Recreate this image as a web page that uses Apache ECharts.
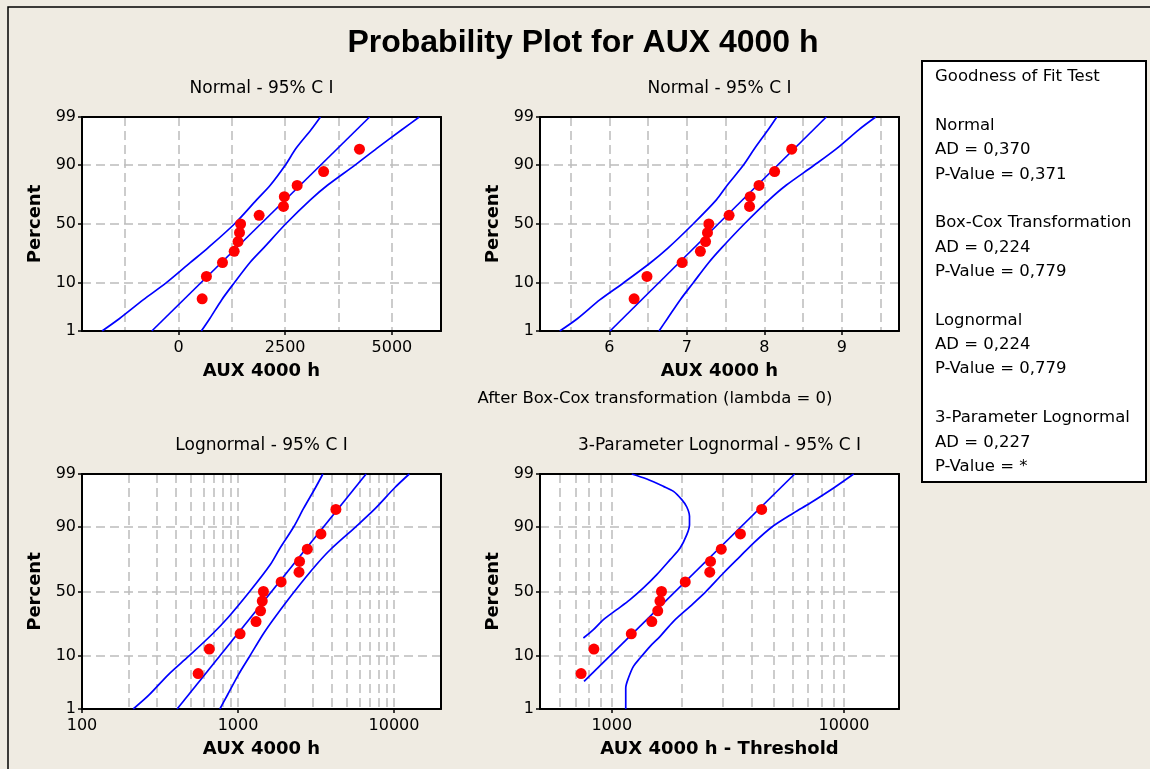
<!DOCTYPE html>
<html>
<head>
<meta charset="utf-8">
<title>Probability Plot for AUX 4000 h</title>
<script src="https://cdn.jsdelivr.net/npm/echarts@6.0.0/dist/echarts.min.js"></script>
<style>
  html, body { margin: 0; padding: 0; background: #efebe2; }
  #chart { width: 1150px; height: 769px; }
</style>
</head>
<body>
<div id="chart"></div>
<script>
// --- data ---
const aux4000 = [555, 655, 1031, 1305, 1395, 1430, 1455, 1890, 2460, 2480, 2780, 3400, 4240];
const plotPercent = [5.2, 12.7, 20.1, 27.6, 35.1, 42.5, 50.0, 57.5, 64.9, 72.4, 79.9, 87.3, 94.8];
const threshold = -183;

const percentTicks = [1, 10, 50, 90, 99];
const percentGrid = [10, 50, 90];

// fitted lines (percent at ends)
const fitPercent = [1, 99];
const normalFit = [-625, 4477];
const boxCoxFit = [6.009, 8.798];
const lognormalFit = [407, 6620];
const tpFitPercent = [3.77, 99];
const tpFit = [760, 6131];

// 95% CI curves
const ciPercent = [1, 2, 5, 10, 20, 30, 50, 70, 80, 90, 95, 98, 99];
const normalLower = [-1790, -1380, -820, -290, 275, 685, 1310, 1830, 2150, 2505, 2755, 3110, 3325];
const normalUpper = [535, 735, 1015, 1305, 1670, 1990, 2510, 3090, 3490, 4135, 4645, 5240, 5640];
const boxCoxLower = [5.36, 5.59, 5.88, 6.18, 6.53, 6.755, 7.08, 7.38, 7.52, 7.73, 7.875, 8.05, 8.16];
const boxCoxUpper = [6.64, 6.75, 6.915, 7.08, 7.28, 7.445, 7.74, 8.06, 8.28, 8.645, 8.935, 9.22, 9.435];
const lognormalLower = [213, 268, 358, 483, 685, 858, 1188, 1604, 1845, 2276, 2631, 3134, 3498];
const lognormalUpper = [765, 854, 1007, 1188, 1451, 1711, 2299, 3165, 3944, 5683, 7593, 10097, 12520];

const tpLowerPercent = [17.86, 22.5, 28.9, 35.96, 43.6, 52.8, 63.05, 73.58, 80.54, 86.97, 90.7, 93.16, 95.28, 96.55, 97.63, 98.13, 98.7, 99];
const tpLower = [755, 834, 921, 1051, 1199, 1369, 1563, 1784, 1970, 2105, 2162, 2162, 2105, 2003, 1845, 1670, 1416, 1220];
const tpUpperPercent = [1, 2.81, 4.34, 6.93, 9.4, 13.88, 18.74, 27.74, 38.45, 49.3, 64.3, 75.7, 83.15, 89.92, 93.99, 96.01, 97.98, 99];
const tpUpper = [1149, 1149, 1180, 1240, 1325, 1463, 1616, 1845, 2176, 2525, 3029, 3574, 4079, 4895, 6067, 7161, 9028, 11008];

// x axis ticks / grid lines
const normalTicks = [0, 2500, 5000];
const normalGrid = [-1250, 0, 1250, 2500, 3750, 5000];
const boxCoxTicks = [6, 7, 8, 9];
const boxCoxGrid = [5.5, 6, 6.5, 7, 7.5, 8, 8.5, 9, 9.5];
const logTicks = [100, 1000, 10000];
const logGrid = [200, 300, 400, 500, 600, 700, 800, 900, 1000, 2000, 3000, 4000, 5000, 6000, 7000, 8000, 9000, 10000];
const tpTicks = [1000, 10000];
const tpGrid = [600, 700, 800, 900, 1000, 2000, 3000, 4000, 5000, 6000, 7000, 8000, 9000, 10000];

const fitTest = [
  'Goodness of Fit Test', '',
  'Normal', 'AD = 0,370', 'P-Value = 0,371', '',
  'Box-Cox Transformation', 'AD = 0,224', 'P-Value = 0,779', '',
  'Lognormal', 'AD = 0,224', 'P-Value = 0,779', '',
  '3-Parameter Lognormal', 'AD = 0,227', 'P-Value = *'
];

// inverse normal cdf (probability scale)
function probit(p) {
  const a = [-3.969683028665376e+01, 2.209460984245205e+02, -2.759285104469687e+02, 1.383577518672690e+02, -3.066479806614716e+01, 2.506628277459239e+00];
  const b = [-5.447609879822406e+01, 1.615858368580409e+02, -1.556989798598866e+02, 6.680131188771972e+01, -1.328068155288572e+01];
  const c = [-7.784894002430293e-03, -3.223964580411365e-01, -2.400758277161838e+00, -2.549732539343734e+00, 4.374664141464968e+00, 2.938163982698783e+00];
  const d = [7.784695709041462e-03, 3.224671290700398e-01, 2.445134137142996e+00, 3.754408661907416e+00];
  let q, r;
  if (p < 0.02425) {
    q = Math.sqrt(-2 * Math.log(p));
    return (((((c[0]*q+c[1])*q+c[2])*q+c[3])*q+c[4])*q+c[5]) / ((((d[0]*q+d[1])*q+d[2])*q+d[3])*q+1);
  }
  if (p > 1 - 0.02425) {
    q = Math.sqrt(-2 * Math.log(1 - p));
    return -(((((c[0]*q+c[1])*q+c[2])*q+c[3])*q+c[4])*q+c[5]) / ((((d[0]*q+d[1])*q+d[2])*q+d[3])*q+1);
  }
  q = p - 0.5; r = q * q;
  return (((((a[0]*r+a[1])*r+a[2])*r+a[3])*r+a[4])*r+a[5])*q / (((((b[0]*r+b[1])*r+b[2])*r+b[3])*r+b[4])*r+1);
}

const SANS = 'DejaVu Sans';
const ident = v => v;
const log10 = v => Math.log10(v);
const fmtPlain = v => String(Math.round(v));
const fmtLog = v => String(Math.round(Math.pow(10, v)));

const panels = [
  { rect: [82, 117, 359, 214], title: 'Normal - 95% C I', xName: 'AUX 4000 h',
    extent: [-2260, 6150], tx: ident, fmt: fmtPlain, ticks: normalTicks, gridVals: normalGrid,
    points: aux4000, fit: normalFit, fitP: fitPercent,
    lower: normalLower, lowerP: ciPercent, upper: normalUpper, upperP: ciPercent },
  { rect: [540, 117, 359, 214], title: 'Normal - 95% C I', xName: 'AUX 4000 h',
    extent: [5.105, 9.736], tx: ident, fmt: fmtPlain, ticks: boxCoxTicks, gridVals: boxCoxGrid,
    points: aux4000.map(v => Math.log(v)), fit: boxCoxFit, fitP: fitPercent,
    lower: boxCoxLower, lowerP: ciPercent, upper: boxCoxUpper, upperP: ciPercent },
  { rect: [82, 474, 359, 235], title: 'Lognormal - 95% C I', xName: 'AUX 4000 h',
    extent: [100, 20000], tx: log10, fmt: fmtLog, ticks: logTicks, gridVals: logGrid,
    points: aux4000, fit: lognormalFit, fitP: fitPercent,
    lower: lognormalLower, lowerP: ciPercent, upper: lognormalUpper, upperP: ciPercent },
  { rect: [540, 474, 359, 235], title: '3-Parameter Lognormal - 95% C I', xName: 'AUX 4000 h - Threshold',
    extent: [491, 17260], tx: log10, fmt: fmtLog, ticks: tpTicks, gridVals: tpGrid,
    points: aux4000.map(v => v - threshold), fit: tpFit, fitP: tpFitPercent,
    lower: tpLower, lowerP: tpLowerPercent, upper: tpUpper, upperP: tpUpperPercent }
];

function toPoints(values, percents, tx) {
  return values.map((v, i) => [tx(v), probit(percents[i] / 100)]);
}

const zMin = probit(0.01), zMax = probit(0.99);
const zTicks = percentTicks.map(p => probit(p / 100));
const zGrid = percentGrid.map(p => probit(p / 100));
const fmtPercent = v => {
  const p = percentTicks.find(t => Math.abs(probit(t / 100) - v) < 1e-6);
  return p === undefined ? '' : String(p);
};

const blackLine = { color: '#000', width: 2 };
const dashed = { color: '#bcbcbc', width: 1.5, type: [9, 5] };
const labelStyle = { fontFamily: SANS, fontSize: 16, color: '#000' };
const nameStyle = { fontFamily: SANS, fontSize: 18, fontWeight: 'bold', color: '#000' };
const blue = '#0000ff';

const grids = [], xAxes = [], yAxes = [], series = [];
panels.forEach((p, i) => {
  const [l, t, w, h] = p.rect;
  grids.push({ left: l, top: t, width: w, height: h, show: true, backgroundColor: '#fff',
    borderWidth: 0, containLabel: false, outerBoundsMode: 'none' });
  const xMin = p.tx(p.extent[0]), xMax = p.tx(p.extent[1]);
  xAxes.push({
    gridIndex: i, type: 'value', position: 'bottom', min: xMin, max: xMax,
    name: p.xName, nameLocation: 'middle', nameGap: 31, nameTextStyle: nameStyle,
    axisLine: { onZero: false, lineStyle: blackLine },
    axisTick: { customValues: p.ticks.map(p.tx), length: 4, lineStyle: { color: '#000', width: 1.5 } },
    axisLabel: Object.assign({ customValues: p.ticks.map(p.tx), formatter: p.fmt, margin: 9 }, labelStyle),
    splitLine: { show: false }
  }, {
    gridIndex: i, type: 'value', position: 'top', min: xMin, max: xMax,
    axisLine: { onZero: false, lineStyle: blackLine },
    axisTick: { show: false, customValues: p.gridVals.map(p.tx) },
    axisLabel: { show: false },
    splitLine: { show: true, lineStyle: dashed }
  });
  yAxes.push({
    gridIndex: i, type: 'value', position: 'left', min: zMin, max: zMax,
    name: 'Percent', nameLocation: 'middle', nameGap: 38, nameTextStyle: nameStyle,
    axisLine: { onZero: false, lineStyle: blackLine },
    axisTick: { customValues: zTicks, length: 4, lineStyle: { color: '#000', width: 1.5 } },
    axisLabel: Object.assign({ customValues: zTicks, formatter: fmtPercent, margin: 6 }, labelStyle),
    splitLine: { show: false }
  }, {
    gridIndex: i, type: 'value', position: 'right', min: zMin, max: zMax,
    axisLine: { onZero: false, lineStyle: blackLine },
    axisTick: { show: false, customValues: zGrid },
    axisLabel: { show: false },
    splitLine: { show: true, lineStyle: dashed }
  });
  const ax = { xAxisIndex: 2 * i, yAxisIndex: 2 * i };
  series.push(
    Object.assign({ type: 'line', data: toPoints(p.fit, p.fitP, p.tx), symbol: 'none',
      lineStyle: { color: blue, width: 1.7 }, z: 3, silent: true }, ax),
    Object.assign({ type: 'line', data: toPoints(p.lower, p.lowerP, p.tx), symbol: 'none', smooth: 0.3,
      lineStyle: { color: blue, width: 1.7 }, z: 3, silent: true }, ax),
    Object.assign({ type: 'line', data: toPoints(p.upper, p.upperP, p.tx), symbol: 'none', smooth: 0.3,
      lineStyle: { color: blue, width: 1.7 }, z: 3, silent: true }, ax),
    Object.assign({ type: 'scatter', data: toPoints(p.points, plotPercent, p.tx), symbol: 'circle',
      symbolSize: 11, itemStyle: { color: '#ff0000', opacity: 1 }, z: 5, silent: true }, ax)
  );
});

function label(text, x, y, size, weight, align) {
  return { type: 'text', x: x, y: y, z: 10, silent: true,
    style: { text: text, fontFamily: SANS, fontSize: size, fontWeight: weight || 'normal', fill: '#000',
      align: align || 'center', textAlign: align || 'center', verticalAlign: 'middle', textVerticalAlign: 'middle' } };
}

const graphics = [
  { type: 'rect', z: -1, silent: true, shape: { x: 8, y: 7, width: 1170, height: 790 },
    style: { fill: 'none', stroke: '#000', lineWidth: 1.5 } },
  { type: 'text', x: 583, y: 43, z: 10, silent: true,
    style: { text: 'Probability Plot for AUX 4000 h', fontFamily: 'Liberation Sans', fontSize: 32, fontWeight: 'bold',
      fill: '#000', align: 'center', textAlign: 'center', verticalAlign: 'middle', textVerticalAlign: 'middle' } },
  label('After Box-Cox transformation (lambda = 0)', 655, 399, 16.5),
  { type: 'rect', z: 1, silent: true, shape: { x: 922, y: 61, width: 224, height: 421 },
    style: { fill: '#fff', stroke: '#000', lineWidth: 2 } }
];
panels.forEach(p => {
  graphics.push(label(p.title, p.rect[0] + p.rect[2] / 2, p.rect[1] - 28, 17));
});
fitTest.forEach((line, i) => {
  if (line) graphics.push(label(line, 935, 77 + i * 24.35, 16.5, 'normal', 'left'));
});

const chart = echarts.init(document.getElementById('chart'), null, { renderer: 'canvas' });
chart.setOption({
  backgroundColor: '#efebe2',
  animation: false,
  textStyle: { fontFamily: SANS },
  grid: grids,
  xAxis: xAxes,
  yAxis: yAxes,
  series: series,
  graphic: graphics
});
</script>
</body>
</html>
